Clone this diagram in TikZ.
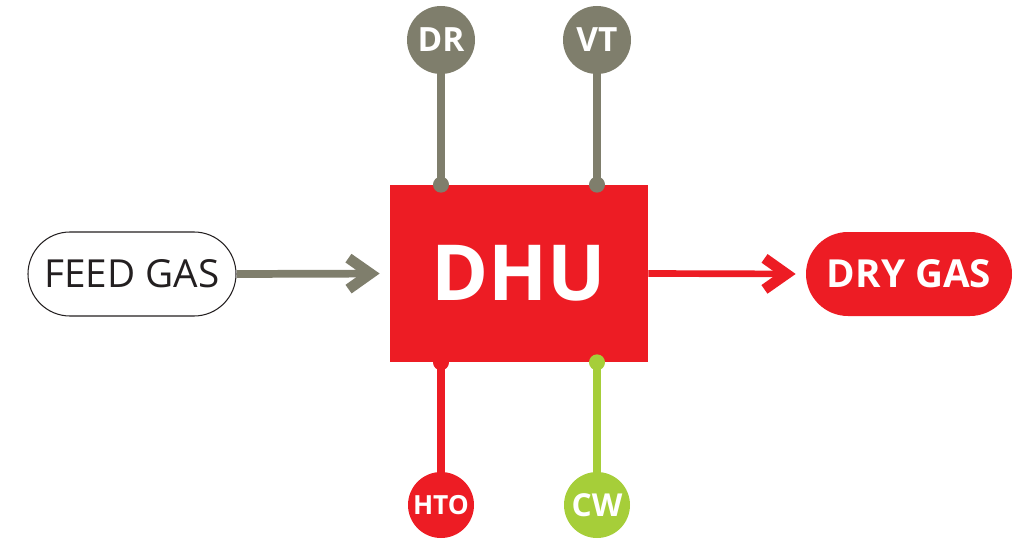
\documentclass[tikz,border=0pt]{standalone}
\usepackage{fontspec}
\setmainfont{Open Sans}
\usepackage{tikz}
\usetikzlibrary{arrows.meta}
\definecolor{dhured}{HTML}{ED1C24}
\definecolor{olivegray}{HTML}{7F7E6C}
\definecolor{limegreen}{HTML}{A6CE39}
\definecolor{darktext}{HTML}{231F20}

\begin{document}
\begin{tikzpicture}[
    unit/.style={rectangle,fill=dhured,minimum width=5.16cm,minimum height=3.54cm,inner sep=0pt,text=white,font=\fontsize{44}{44}\selectfont\bfseries},
    util/.style={circle,minimum size=1.36cm,inner sep=0pt,text=white,font=\fontsize{19}{19}\selectfont\bfseries},
    pipe/.style={line width=4.4pt},
    flow/.style={line width=#1,-{Straight Barb[length=0.44cm,width=0.62cm,line width=6pt]},shorten >=0.2cm}
  ]
  \useasboundingbox (0,0) rectangle (20.32,10.76);
  % Nodes
  \node[unit] (dhu) at (10.38,5.29) {DHU};
  \node[rectangle,draw=darktext,line width=0.6pt,rounded corners=0.84cm,minimum width=4.16cm,minimum height=1.68cm,inner sep=0pt,text=darktext,font=\fontsize{22}{22}\selectfont] (feed) at (2.64,5.28) {FEED GAS};
  \node[rectangle,fill=dhured,rounded corners=0.84cm,minimum width=4.12cm,minimum height=1.68cm,inner sep=0pt,text=white,font=\fontsize{22}{22}\selectfont\bfseries] (dry) at (18.18,5.28) {DRY GAS};
  \node[util,fill=olivegray] (dr) at (8.82,9.96) {DR};
  \node[util,fill=olivegray] (vt) at (11.94,9.96) {VT};
  \node[util,fill=dhured,minimum size=1.32cm,font=\fontsize{15}{15}\selectfont\bfseries] (hto) at (8.82,0.66) {HTO};
  \node[util,fill=limegreen,minimum size=1.32cm,font=\fontsize{18}{18}\selectfont\bfseries] (cw) at (11.94,0.66) {CW};

  % Utility lines
  \draw[pipe,olivegray] (dr.south) -- (dr.south |- dhu.north);
  \fill[olivegray] (dr |- dhu.north) circle (0.16);
  \draw[pipe,olivegray] (vt.south) -- (vt.south |- dhu.north);
  \fill[olivegray] (vt |- dhu.north) circle (0.16);
  \draw[pipe,dhured] (hto.north) -- (hto.north |- dhu.south);
  \fill[dhured] (hto |- dhu.south) circle (0.16);
  \draw[pipe,limegreen] (cw.north) -- (cw.north |- dhu.south);
  \fill[limegreen] (cw |- dhu.south) circle (0.16);

  % Arrows (gas flow)
  \draw[flow=4.4pt,olivegray] (feed.east) -- (dhu.west);
  \draw[flow=3.8pt,dhured] (dhu.east) -- (dry.west);
\end{tikzpicture}
\end{document}
